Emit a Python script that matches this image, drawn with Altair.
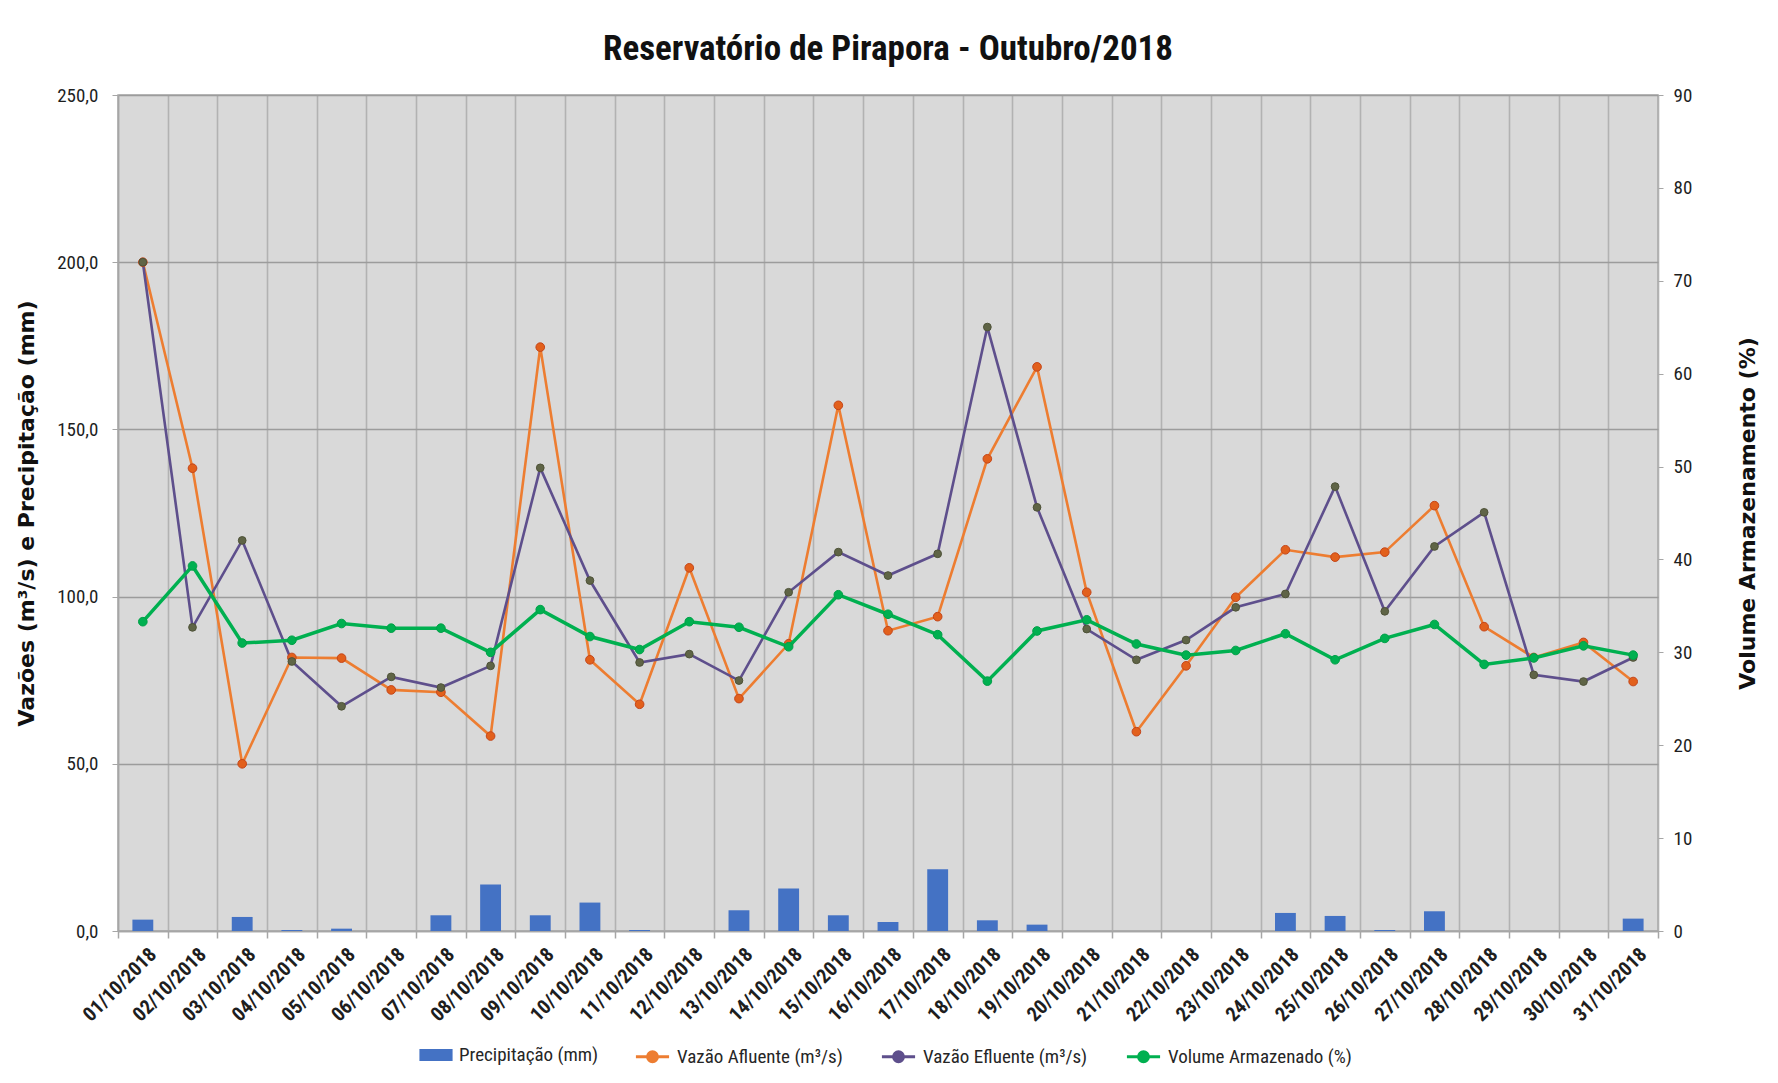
import altair as alt
import pandas as pd

dates = [f"{d:02d}/10/2018" for d in range(1, 32)]

precipitacao = [3.4, 0, 4.2, 0.3, 0.7, 0, 4.7, 13.9, 4.7, 8.5, 0.3, 0, 6.2, 12.7, 4.7, 2.7,
                18.5, 3.2, 1.9, 0, 0, 0, 0, 5.4, 4.5, 0.3, 5.9, 0, 0, 0, 3.7]
afluente = [200.0, 138.4, 50.0, 81.8, 81.6, 72.1, 71.4, 58.3, 174.6, 81.1, 67.8, 108.6, 69.5,
            85.9, 157.2, 89.8, 94.0, 141.2, 168.7, 101.3, 59.6, 79.3, 99.8, 114.0, 111.8, 113.3,
            127.2, 91.0, 81.8, 86.3, 74.6]
efluente = [200.0, 90.8, 116.8, 80.6, 67.2, 76.0, 72.8, 79.3, 138.5, 104.8, 80.3, 82.8, 74.9,
            101.3, 113.3, 106.3, 112.8, 180.6, 126.7, 90.3, 81.1, 87.0, 96.8, 100.8, 132.9, 95.6,
            115.0, 125.2, 76.6, 74.6, 81.8]
volume = [33.3, 39.3, 31.0, 31.3, 33.1, 32.6, 32.6, 30.0, 34.6, 31.7, 30.3, 33.3, 32.7, 30.6,
          36.2, 34.1, 31.9, 26.9, 32.3, 33.5, 30.9, 29.7, 30.2, 32.0, 29.2, 31.5, 33.0, 28.7,
          29.4, 30.7, 29.7]

bar_series = ["Precipitação (mm)"]
bar_colors = ["#4472c4"]
line_series = ["Vazão Afluente (m³/s)", "Vazão Efluente (m³/s)", "Volume Armazenado (%)"]
line_colors = ["#ed7d31", "#5e4f8c", "#00b050"]

NARROW = "Liberation Sans Narrow, Arial Narrow, Roboto Condensed, Lato"

def frame(vals, name):
    return pd.DataFrame({"data": dates, "valor": vals, "serie": name})

df_p = frame(precipitacao, bar_series[0])
df_a = frame(afluente, line_series[0])
df_e = frame(efluente, line_series[1])
df_v = frame(volume, line_series[2])

common_leg = dict(orient="none", direction="horizontal", title=None, padding=0,
                  labelFont=NARROW, labelFontSize=19, labelColor="#262626", labelLimit=400,
                  symbolSize=1100, labelOffset=6, columnPadding=32, legendY=943)

bar_legend = alt.Legend(symbolType="M-1,-0.36H1V0.36H-1Z", symbolStrokeWidth=0,
                        legendX=301, **common_leg)
line_legend = alt.Legend(
    symbolType=("M-1,0H1M0.3,0A0.3,0.3 0 1,1 -0.3,0A0.3,0.3 0 1,1 0.3,0"
                "M0.15,0A0.15,0.15 0 1,1 -0.15,0A0.15,0.15 0 1,1 0.15,0"),
    symbolStrokeWidth=3, symbolFillColor="transparent", legendX=516, **common_leg)

fill_enc = alt.Fill("serie:N", scale=alt.Scale(domain=bar_series, range=bar_colors), legend=bar_legend)
stroke_enc = alt.Stroke("serie:N", scale=alt.Scale(domain=line_series, range=line_colors), legend=line_legend)

x = alt.X("data:N", sort=dates,
          scale=alt.Scale(paddingInner=0, paddingOuter=0),
          axis=alt.Axis(title=None, labelAngle=-45, tickBand="extent", grid=True,
                        gridColor="#b2b2b2", gridWidth=1.6, domainColor="#a6a6a6",
                        domainWidth=1.5, tickColor="#a6a6a6", tickSize=7, tickWidth=1.5,
                        labelFont=NARROW, labelFontSize=20, labelFontWeight="bold",
                        labelColor="#1e1e1e", labelPadding=6, labelOffset=3))

yleft_axis = alt.Axis(values=[0, 50, 100, 150, 200, 250],
                      labelExpr="replace(format(datum.value, '.1f'), '.', ',')",
                      title="Vazões (m³/s) e Precipitação (mm)",
                      titleFont="DejaVu Sans", titleFontSize=22, titleFontWeight="bold",
                      titleColor="#111111", titlePadding=18,
                      grid=True, gridColor="#9c9c9c", gridWidth=1.6,
                      domainColor="#a6a6a6", domainWidth=1.5, tickColor="#a6a6a6", tickSize=6,
                      labelFont=NARROW, labelFontSize=19, labelColor="#1e1e1e", labelPadding=14)
yleft = alt.Y("valor:Q", scale=alt.Scale(domain=[0, 250], nice=False), axis=yleft_axis)

bars = alt.Chart(df_p).mark_bar(width={"band": 0.42}).encode(x=x, y=yleft, fill=fill_enc)

line_a = alt.Chart(df_a).mark_line(strokeWidth=2.6).encode(x=x, y=yleft, stroke=stroke_enc)
pts_a = alt.Chart(df_a).mark_point(filled=True, size=75, fill="#e2601c", stroke="#c4461a",
                                   strokeWidth=1, opacity=1).encode(x=x, y=yleft)
line_e = alt.Chart(df_e).mark_line(strokeWidth=2.6).encode(x=x, y=yleft, stroke=stroke_enc)
pts_e = alt.Chart(df_e).mark_point(filled=True, size=60, fill="#5f6446", stroke="#4e5238",
                                   strokeWidth=1, opacity=1).encode(x=x, y=yleft)

left = alt.layer(bars, line_a, line_e, pts_a, pts_e)

yright = alt.Y("valor:Q", scale=alt.Scale(domain=[0, 90], nice=False),
               axis=alt.Axis(orient="right", values=list(range(0, 91, 10)), grid=False,
                             title="Volume Armazenamento (%)", titleAngle=270,
                             titleFont="DejaVu Sans", titleFontSize=22, titleFontWeight="bold",
                             titleColor="#111111", titlePadding=68,
                             domain=False, tickColor="#a6a6a6", tickSize=5,
                             labelFont=NARROW, labelFontSize=19, labelColor="#1e1e1e",
                             labelPadding=10))

line_v = alt.Chart(df_v).mark_line(strokeWidth=3.5).encode(x=x, y=yright, stroke=stroke_enc)
pts_v = alt.Chart(df_v).mark_point(filled=True, size=75, fill="#00b050", stroke="#00a048",
                                   strokeWidth=1, opacity=1).encode(x=x, y=yright)
right = alt.layer(line_v, pts_v)

chart = alt.layer(left, right).resolve_scale(y="independent").properties(
    width=1540, height=836,
    title=alt.TitleParams("Reservatório de Pirapora - Outubro/2018", font=NARROW,
                          fontSize=35, fontWeight="bold", color="#111111",
                          anchor="middle", offset=19),
    padding={"left": 7, "top": 24, "right": 5, "bottom": 5},
    background="white",
).configure_view(fill="#d9d9d9", stroke="#a8a8a8", strokeWidth=1.5)

chart.save("out.html", embed_options={"renderer": "svg", "actions": False})
